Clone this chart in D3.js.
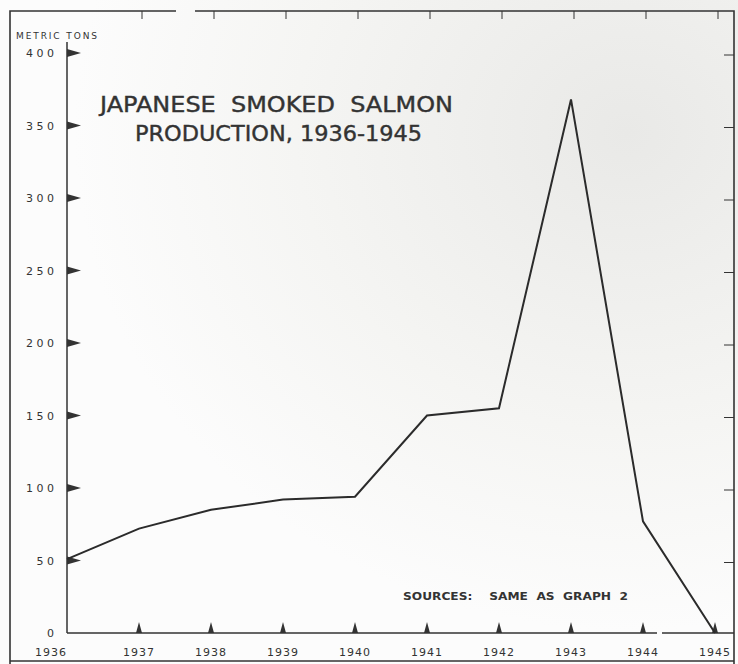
<!DOCTYPE html>
<html>
<head>
<meta charset="utf-8">
<script src="https://cdn.jsdelivr.net/npm/d3@7"></script>
<style>
  html, body { margin: 0; padding: 0; background: #f8f8f6; }
  svg { display: block; }
  text { font-family: "DejaVu Sans", sans-serif; fill: #333; white-space: pre; }
</style>
</head>
<body>
<div id="chart"></div>
<script>
const years = [1936, 1937, 1938, 1939, 1940, 1941, 1942, 1943, 1944, 1945]
const tons = [51, 72, 85, 92, 94, 150, 155, 368, 77, 0]
const yTicks = [0, 50, 100, 150, 200, 250, 300, 350, 400]

const width = 738
const height = 664
const ink = "#333"

const svg = d3.select("#chart")
    .append("svg")
    .attr("width", width)
    .attr("height", height)

// faint scan shading on the right side of the page
const grad = svg.append("defs").append("radialGradient")
    .attr("id", "paper")
    .attr("cx", "0.85").attr("cy", "0.2").attr("r", "0.75")
grad.append("stop").attr("offset", "0%").attr("stop-color", "#e9e9e7")
grad.append("stop").attr("offset", "60%").attr("stop-color", "#f5f5f3")
grad.append("stop").attr("offset", "100%").attr("stop-color", "#fcfcfc")
svg.append("rect")
    .attr("width", width).attr("height", height)
    .attr("fill", "url(#paper)")

const x = d3.scalePoint()
    .domain(years)
    .range([67, 715])

const y = d3.scaleLinear()
    .domain([0, 400])
    .range([633, 53])

// frame
svg.append("path")
    .attr("d", "M10,664 V11 H176 M195,11 H734 V664 M10,661 H734")
    .attr("fill", "none")
    .attr("stroke", ink)
    .attr("stroke-width", 1.6)

// top frame ticks
svg.selectAll(".top-tick")
    .data(years.slice(1))
    .enter()
    .append("line")
    .attr("x1", d => x(d) + 3).attr("x2", d => x(d) + 3)
    .attr("y1", 11).attr("y2", 19)
    .attr("stroke", ink).attr("stroke-width", 1)

// right frame ticks
svg.selectAll(".right-tick")
    .data(yTicks.slice(1))
    .enter()
    .append("line")
    .attr("x1", 724).attr("x2", 734)
    .attr("y1", d => y(d) + 2).attr("y2", d => y(d) + 2)
    .attr("stroke", ink).attr("stroke-width", 1)

// y axis line
svg.append("line")
    .attr("x1", x(1936)).attr("x2", x(1936))
    .attr("y1", 42).attr("y2", y(0))
    .attr("stroke", ink).attr("stroke-width", 1.5)

// x axis line (with the small break near 1944)
svg.append("path")
    .attr("d", `M${x(1936)},${y(0)} H657 M662,${y(0)} H734`)
    .attr("stroke", ink).attr("stroke-width", 1.5)

// y tick triangles
svg.selectAll(".ytri")
    .data(yTicks.slice(1))
    .enter()
    .append("path")
    .attr("d", d => `M${x(1936)},${y(d) - 4} L${x(1936) + 14},${y(d)} L${x(1936)},${y(d) + 4} Z`)
    .attr("fill", ink)

// x tick triangles
svg.selectAll(".xtri")
    .data(years.slice(1))
    .enter()
    .append("path")
    .attr("d", d => `M${x(d) - 3},${y(0)} L${x(d)},${y(0) - 11} L${x(d) + 3},${y(0)} Z`)
    .attr("fill", ink)

// y labels
svg.selectAll(".ylab")
    .data(yTicks)
    .enter()
    .append("text")
    .attr("x", 54)
    .attr("y", d => y(d) + 4)
    .attr("text-anchor", "end")
    .attr("font-size", 11)
    .attr("fill", "#444")
    .text(d => String(d).split("").join(" "))

svg.append("text")
    .attr("x", 16).attr("y", 39)
    .attr("font-size", 9)
    .attr("textLength", 81)
    .text("METRIC TONS")

// x labels
svg.selectAll(".xlab")
    .data(years)
    .enter()
    .append("text")
    .attr("x", (d, i) => i === 0 ? 51 : x(d))
    .attr("y", 656)
    .attr("text-anchor", "middle")
    .attr("font-size", 11)
    .attr("letter-spacing", 1)
    .text(d => d)

// title
svg.append("text")
    .attr("x", 100).attr("y", 112)
    .attr("font-size", 22)
    .attr("stroke", "#333").attr("stroke-width", 0.4)
    .attr("textLength", 353)
    .attr("lengthAdjust", "spacingAndGlyphs")
    .text("JAPANESE  SMOKED  SALMON")
svg.append("text")
    .attr("x", 135).attr("y", 141)
    .attr("font-size", 22)
    .attr("stroke", "#333").attr("stroke-width", 0.4)
    .attr("textLength", 287)
    .attr("lengthAdjust", "spacingAndGlyphs")
    .text("PRODUCTION, 1936-1945")

// sources
svg.append("text")
    .attr("x", 403).attr("y", 600)
    .attr("font-size", 11)
    .attr("font-weight", "bold")
    .attr("textLength", 225)
    .attr("lengthAdjust", "spacingAndGlyphs")
    .text("SOURCES:    SAME  AS  GRAPH  2")

// production line
const line = d3.line()
    .x((d, i) => x(years[i]))
    .y(d => y(d))

svg.append("path")
    .datum(tons)
    .attr("d", line)
    .attr("fill", "none")
    .attr("stroke", "#2b2b2b")
    .attr("stroke-width", 2)
</script>
</body>
</html>
